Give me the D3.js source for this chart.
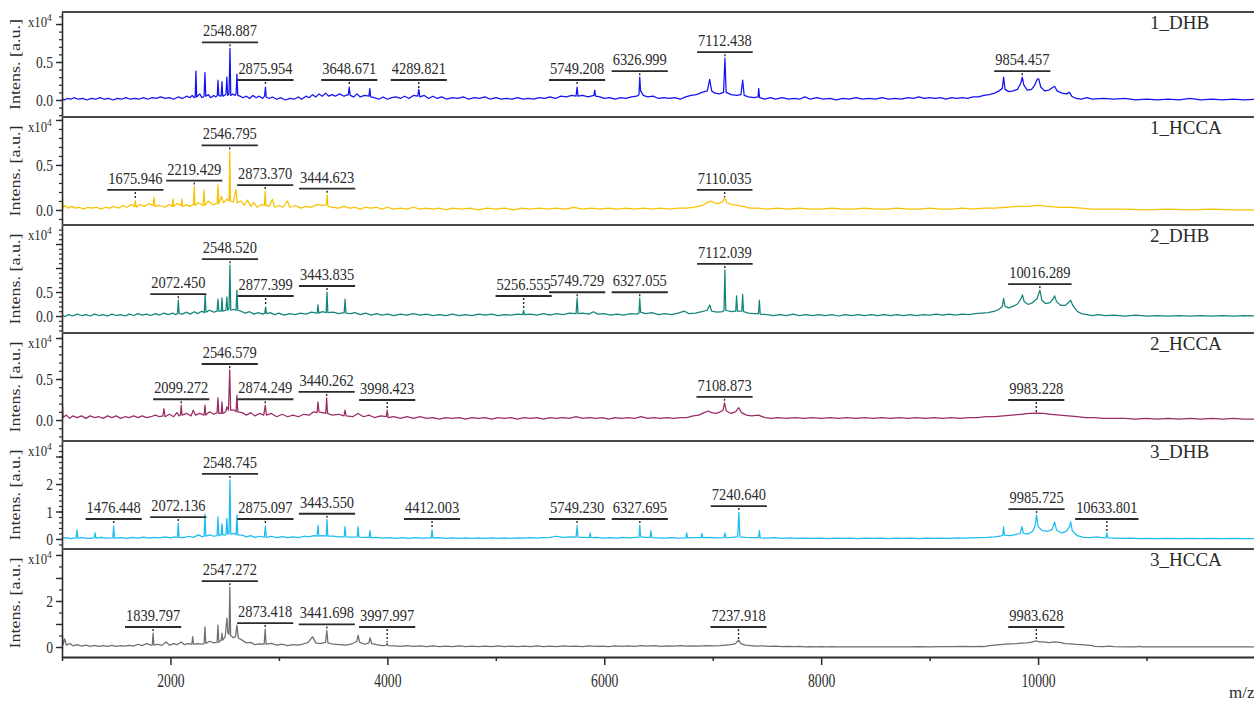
<!DOCTYPE html>
<html>
<head>
<meta charset="utf-8">
<script src="https://cdn.jsdelivr.net/npm/d3@7"></script>
<style>
  body { margin: 0; background: #fff; }
  svg { display: block; }
  text { font-family: "Liberation Serif", "Times New Roman", serif; }
</style>
</head>
<body>
<svg id="chart" width="1254" height="701"></svg>
<script>
// ---- m/z axis ----
const massRange = [1000, 12000];
const massMajorTicks = [2000, 4000, 6000, 8000, 10000, 12000];
const massTickLabels = [2000, 4000, 6000, 8000, 10000];
const massMinorTicks = [1000, 3000, 5000, 7000, 9000, 11000];

// ---- sample names and trace colours ----
const sampleNames = ["1_DHB", "1_HCCA", "2_DHB", "2_HCCA", "3_DHB", "3_HCCA"];
const traceColors = ["#1212f2", "#f7c200", "#14857a", "#9a2c66", "#1cbcef", "#6e6e6e"];

// ---- spectra: flat [m/z, intensity (x10^4 a.u.)] pairs ----
const spec1DHB = [
  1000,0.02, 1020,0.0, 1050,0.02, 1080,0.01, 1110,0.03, 1150,0.01, 1190,0.02, 1230,0.0, 1270,0.02, 1310,0.01,
  1350,0.03, 1390,0.01, 1430,0.02, 1470,0.0, 1510,0.02, 1550,0.01, 1590,0.03, 1630,0.01, 1670,0.02, 1710,0.01,
  1750,0.03, 1790,0.01, 1830,0.03, 1870,0.02, 1910,0.04, 1950,0.02, 1990,0.03, 2030,0.01, 2070,0.04, 2110,0.02,
  2150,0.05, 2180,0.03, 2200,0.06, 2220,0.03, 2228,0.04, 2235,0.38, 2242,0.04, 2270,0.08, 2290,0.03, 2310,0.05,
  2318,0.36, 2326,0.05, 2350,0.07, 2370,0.03, 2400,0.06, 2420,0.04, 2432,0.06, 2438,0.26, 2446,0.06, 2460,0.05,
  2468,0.06, 2475,0.24, 2482,0.05, 2500,0.06, 2512,0.08, 2520,0.30, 2528,0.06, 2540,0.08, 2548.887,0.68, 2556,0.06,
  2575,0.08, 2595,0.06, 2605,0.08, 2613,0.34, 2621,0.06, 2640,0.05, 2670,0.03, 2700,0.05, 2730,0.02, 2760,0.06,
  2790,0.03, 2820,0.05, 2850,0.02, 2868,0.05, 2875.954,0.17, 2883,0.04, 2910,0.02, 2940,0.04, 2980,0.01, 3020,0.03,
  3060,0.0, 3100,0.02, 3140,0.01, 3180,0.04, 3210,0.01, 3250,0.05, 3280,0.03, 3310,0.07, 3340,0.04, 3370,0.08,
  3400,0.05, 3430,0.09, 3460,0.05, 3490,0.07, 3520,0.05, 3560,0.08, 3600,0.05, 3640,0.07, 3648.671,0.17, 3657,0.06,
  3690,0.04, 3720,0.08, 3750,0.04, 3790,0.06, 3830,0.05, 3838,0.15, 3846,0.04, 3880,0.03, 3920,0.01, 3960,0.04,
  4000,0.01, 4040,0.03, 4080,0.04, 4120,0.02, 4160,0.05, 4200,0.02, 4240,0.06, 4280,0.05, 4289.821,0.14, 4300,0.04,
  4340,0.06, 4380,0.02, 4420,0.05, 4460,0.02, 4500,0.04, 4550,0.01, 4600,0.03, 4650,0.02, 4700,0.04, 4750,0.01,
  4800,0.03, 4850,0.02, 4900,0.04, 4950,0.01, 5000,0.03, 5050,0.01, 5100,0.02, 5150,0.01, 5200,0.03, 5250,0.01,
  5300,0.02, 5350,0.01, 5400,0.03, 5450,0.02, 5500,0.04, 5550,0.02, 5600,0.05, 5650,0.04, 5700,0.06, 5740,0.05,
  5749.208,0.17, 5758,0.05, 5800,0.06, 5850,0.04, 5905,0.06, 5912,0.13, 5920,0.05, 5960,0.04, 6000,0.02, 6050,0.03,
  6100,0.01, 6150,0.03, 6200,0.02, 6250,0.04, 6300,0.05, 6320,0.07, 6326.999,0.30, 6335,0.12, 6360,0.06, 6400,0.04,
  6450,0.05, 6500,0.02, 6550,0.03, 6600,0.02, 6650,0.03, 6700,0.01, 6750,0.04, 6800,0.06, 6850,0.07, 6900,0.10,
  6950,0.12, 6972,0.27, 6990,0.12, 7020,0.09, 7060,0.08, 7100,0.10, 7112.438,0.55, 7124,0.10, 7170,0.07, 7220,0.06,
  7260,0.07, 7276,0.26, 7290,0.06, 7330,0.04, 7380,0.03, 7418,0.04, 7424,0.15, 7432,0.03, 7480,0.01, 7530,0.03,
  7580,0.01, 7640,0.03, 7700,0.01, 7750,0.02, 7800,0.01, 7850,0.04, 7900,0.01, 7960,0.03, 8020,0.01, 8080,0.02,
  8140,0.0, 8200,0.02, 8260,0.01, 8320,0.03, 8380,0.01, 8440,0.02, 8500,0.01, 8560,0.03, 8620,0.01, 8680,0.02,
  8740,0.01, 8800,0.03, 8850,0.02, 8900,0.04, 8950,0.02, 9000,0.03, 9050,0.02, 9100,0.03, 9150,0.01, 9200,0.03,
  9250,0.02, 9300,0.03, 9350,0.02, 9400,0.04, 9450,0.04, 9500,0.06, 9550,0.07, 9600,0.09, 9640,0.12, 9670,0.15,
  9682,0.30, 9695,0.14, 9730,0.11, 9770,0.12, 9810,0.14, 9840,0.22, 9854.457,0.30, 9868,0.20, 9900,0.13, 9940,0.14,
  9970,0.20, 9990,0.27, 10005,0.28, 10025,0.17, 10060,0.12, 10100,0.13, 10130,0.16, 10152,0.18, 10175,0.12, 10220,0.09,
  10260,0.08, 10290,0.10, 10310,0.05, 10350,0.02, 10400,0.01, 10450,0.03, 10500,0.01, 10600,0.02, 10700,0.01, 10800,0.02,
  10900,0.0, 11000,0.01, 11100,0.0, 11200,0.01, 11300,0.0, 11400,0.02, 11500,0.0, 11600,0.01, 11700,0.0, 11800,0.01,
  11900,0.0, 12000,0.01
];

const spec1HCCA = [
  1000,0.0, 1004,0.16, 1010,0.02, 1030,0.05, 1060,0.02, 1090,0.04, 1120,0.02, 1160,0.03, 1200,0.01, 1240,0.03,
  1280,0.02, 1320,0.03, 1360,0.01, 1400,0.03, 1440,0.02, 1480,0.04, 1520,0.02, 1560,0.05, 1600,0.03, 1640,0.06,
  1668,0.04, 1675.946,0.10, 1684,0.03, 1720,0.06, 1760,0.04, 1800,0.07, 1840,0.05, 1848,0.14, 1856,0.04, 1900,0.05,
  1950,0.03, 1990,0.06, 2016,0.04, 2023,0.12, 2030,0.04, 2060,0.07, 2098,0.05, 2105,0.12, 2112,0.04, 2150,0.06,
  2180,0.04, 2212,0.06, 2219.429,0.26, 2226,0.05, 2260,0.08, 2300,0.05, 2309,0.22, 2317,0.05, 2350,0.10, 2390,0.06,
  2430,0.07, 2438,0.28, 2446,0.07, 2470,0.15, 2490,0.08, 2520,0.12, 2540,0.10, 2546.795,0.65, 2553,0.10, 2580,0.09,
  2604,0.23, 2615,0.08, 2650,0.10, 2680,0.05, 2710,0.11, 2740,0.04, 2770,0.08, 2800,0.03, 2840,0.06, 2866,0.05,
  2873.370,0.21, 2880,0.05, 2910,0.04, 2940,0.12, 2960,0.03, 3000,0.05, 3040,0.03, 3080,0.10, 3100,0.03, 3150,0.05,
  3200,0.02, 3250,0.04, 3300,0.03, 3350,0.06, 3400,0.05, 3437,0.06, 3444.623,0.17, 3452,0.04, 3500,0.03, 3550,0.02,
  3600,0.04, 3650,0.02, 3700,0.03, 3750,0.01, 3800,0.03, 3850,0.02, 3900,0.03, 3950,0.01, 4000,0.03, 4060,0.01,
  4120,0.02, 4180,0.01, 4240,0.03, 4300,0.01, 4360,0.02, 4420,0.01, 4480,0.02, 4540,0.0, 4600,0.02, 4680,0.01,
  4760,0.02, 4840,0.0, 4920,0.02, 5000,0.01, 5080,0.02, 5160,0.0, 5240,0.02, 5320,0.01, 5400,0.02, 5480,0.01,
  5560,0.02, 5640,0.01, 5720,0.03, 5800,0.01, 5880,0.02, 5960,0.01, 6040,0.02, 6120,0.01, 6200,0.02, 6280,0.01,
  6360,0.02, 6440,0.01, 6520,0.02, 6600,0.01, 6680,0.02, 6760,0.02, 6820,0.03, 6870,0.04, 6920,0.06, 6960,0.09,
  6980,0.10, 7010,0.08, 7050,0.07, 7090,0.09, 7110.035,0.13, 7130,0.08, 7180,0.06, 7230,0.05, 7280,0.04, 7340,0.02,
  7420,0.02, 7500,0.01, 7600,0.02, 7700,0.01, 7800,0.02, 7900,0.01, 8000,0.01, 8100,0.02, 8200,0.01, 8300,0.01,
  8400,0.02, 8500,0.01, 8600,0.01, 8700,0.02, 8800,0.01, 8900,0.01, 9000,0.02, 9100,0.01, 9200,0.01, 9300,0.02,
  9400,0.01, 9500,0.02, 9600,0.02, 9700,0.03, 9800,0.04, 9900,0.04, 10000,0.05, 10100,0.04, 10200,0.03, 10300,0.03,
  10400,0.02, 10500,0.01, 10600,0.01, 10800,0.01, 11000,0.0, 11200,0.01, 11400,0.0, 11600,0.01, 11800,0.0, 12000,0.0
];

const spec2DHB = [
  1000,0.02, 1030,-0.01, 1060,0.03, 1100,0.0, 1140,0.04, 1180,0.01, 1220,0.03, 1260,0.0, 1300,0.04, 1340,0.01,
  1380,0.03, 1420,0.0, 1460,0.04, 1500,0.01, 1540,0.03, 1580,0.0, 1620,0.04, 1660,0.01, 1700,0.05, 1740,0.02,
  1780,0.04, 1820,0.01, 1860,0.05, 1900,0.02, 1940,0.06, 1980,0.03, 2020,0.06, 2050,0.03, 2065,0.05, 2072.450,0.33,
  2080,0.05, 2110,0.04, 2150,0.08, 2180,0.04, 2220,0.09, 2250,0.05, 2290,0.10, 2312,0.07, 2320,0.44, 2328,0.08,
  2360,0.12, 2400,0.08, 2430,0.10, 2438,0.35, 2446,0.10, 2468,0.10, 2475,0.38, 2482,0.10, 2512,0.12, 2520,0.40,
  2528,0.12, 2540,0.15, 2548.520,1.06, 2556,0.12, 2585,0.14, 2605,0.12, 2613,0.54, 2621,0.12, 2650,0.10, 2690,0.06,
  2730,0.09, 2770,0.04, 2810,0.07, 2850,0.04, 2870,0.06, 2877.399,0.19, 2885,0.05, 2920,0.07, 2960,0.03, 3000,0.06,
  3050,0.02, 3100,0.05, 3150,0.03, 3200,0.06, 3250,0.04, 3300,0.08, 3352,0.06, 3360,0.23, 3368,0.06, 3400,0.09,
  3436,0.07, 3443.835,0.50, 3451,0.07, 3500,0.08, 3550,0.05, 3602,0.07, 3610,0.35, 3618,0.06, 3660,0.05, 3700,0.07,
  3750,0.03, 3800,0.06, 3850,0.02, 3900,0.05, 3950,0.02, 4000,0.04, 4060,0.01, 4120,0.04, 4180,0.02, 4240,0.05,
  4300,0.02, 4360,0.04, 4420,0.01, 4480,0.03, 4540,0.01, 4600,0.04, 4660,0.01, 4720,0.03, 4780,0.01, 4840,0.04,
  4900,0.02, 4960,0.04, 5020,0.01, 5080,0.03, 5140,0.02, 5200,0.04, 5248,0.03, 5256.555,0.12, 5264,0.03, 5320,0.04,
  5380,0.02, 5440,0.05, 5500,0.02, 5560,0.05, 5620,0.03, 5680,0.06, 5740,0.05, 5749.729,0.37, 5758,0.05, 5800,0.06,
  5860,0.04, 5900,0.09, 5940,0.04, 6000,0.05, 6060,0.02, 6120,0.04, 6180,0.02, 6240,0.05, 6300,0.04, 6320,0.06,
  6327.055,0.37, 6335,0.08, 6380,0.05, 6440,0.07, 6500,0.03, 6560,0.05, 6620,0.03, 6680,0.06, 6740,0.10, 6780,0.05,
  6840,0.06, 6900,0.09, 6950,0.12, 6972,0.23, 6990,0.10, 7040,0.08, 7090,0.09, 7104,0.12, 7112.039,0.96, 7120,0.12,
  7170,0.09, 7212,0.10, 7220,0.42, 7228,0.10, 7268,0.10, 7276,0.45, 7284,0.09, 7330,0.06, 7380,0.05, 7422,0.05,
  7430,0.33, 7438,0.04, 7500,0.03, 7560,0.01, 7620,0.03, 7680,0.01, 7740,0.04, 7800,0.01, 7860,0.03, 7920,0.01,
  7980,0.03, 8040,0.01, 8100,0.03, 8160,0.0, 8220,0.03, 8280,0.01, 8340,0.03, 8400,0.01, 8460,0.03, 8520,0.01,
  8580,0.03, 8640,0.01, 8700,0.03, 8760,0.01, 8820,0.03, 8880,0.01, 8940,0.03, 9000,0.02, 9060,0.04, 9120,0.02,
  9180,0.04, 9240,0.02, 9300,0.04, 9360,0.03, 9420,0.05, 9480,0.06, 9540,0.07, 9600,0.10, 9640,0.14, 9670,0.20,
  9682,0.37, 9695,0.20, 9730,0.17, 9770,0.20, 9810,0.25, 9840,0.35, 9856,0.44, 9872,0.30, 9910,0.24, 9950,0.28,
  9990,0.36, 10016.289,0.54, 10035,0.33, 10070,0.26, 10110,0.28, 10140,0.36, 10152,0.42, 10170,0.30, 10210,0.22, 10250,0.22,
  10280,0.28, 10300,0.33, 10320,0.22, 10360,0.10, 10400,0.05, 10450,0.03, 10500,0.01, 10560,0.03, 10620,0.01, 10700,0.02,
  10800,0.0, 10900,0.02, 11000,0.0, 11100,0.01, 11200,0.0, 11300,0.01, 11400,0.0, 11500,0.01, 11600,0.0, 11700,0.01,
  11800,0.0, 11900,0.01, 12000,0.0
];

const spec2HCCA = [
  1000,0.0, 1004,0.20, 1010,0.03, 1040,0.06, 1070,0.02, 1100,0.05, 1140,0.03, 1180,0.05, 1220,0.02, 1260,0.05,
  1300,0.03, 1340,0.04, 1380,0.02, 1420,0.05, 1460,0.03, 1500,0.05, 1540,0.02, 1580,0.04, 1620,0.03, 1660,0.05,
  1700,0.03, 1740,0.05, 1780,0.03, 1820,0.04, 1860,0.06, 1900,0.04, 1930,0.05, 1940,0.14, 1950,0.04, 1990,0.07,
  2030,0.04, 2060,0.09, 2080,0.05, 2092,0.06, 2099.272,0.18, 2107,0.06, 2150,0.08, 2190,0.05, 2210,0.12, 2230,0.06,
  2270,0.08, 2310,0.06, 2318,0.18, 2326,0.06, 2360,0.10, 2400,0.07, 2430,0.09, 2438,0.27, 2446,0.08, 2468,0.08,
  2475,0.22, 2482,0.08, 2510,0.10, 2520,0.16, 2535,0.12, 2546.579,0.61, 2555,0.12, 2590,0.12, 2605,0.10, 2613,0.30,
  2621,0.10, 2660,0.09, 2700,0.06, 2740,0.09, 2780,0.05, 2820,0.08, 2860,0.06, 2874.249,0.18, 2885,0.06, 2930,0.08,
  2980,0.04, 3030,0.07, 3080,0.04, 3130,0.06, 3180,0.04, 3230,0.07, 3280,0.06, 3320,0.10, 3352,0.09, 3360,0.22,
  3370,0.10, 3400,0.09, 3432,0.08, 3440.262,0.27, 3448,0.08, 3490,0.06, 3550,0.07, 3600,0.05, 3610,0.12, 3620,0.05,
  3680,0.04, 3730,0.08, 3780,0.04, 3830,0.06, 3880,0.03, 3940,0.05, 3990,0.04, 3998.423,0.12, 4007,0.03, 4060,0.04,
  4120,0.02, 4180,0.04, 4240,0.02, 4300,0.04, 4360,0.02, 4420,0.03, 4480,0.01, 4540,0.03, 4600,0.02, 4660,0.03,
  4720,0.01, 4780,0.03, 4840,0.02, 4900,0.03, 4960,0.01, 5020,0.03, 5080,0.02, 5140,0.03, 5200,0.01, 5260,0.03,
  5320,0.02, 5380,0.03, 5440,0.01, 5500,0.03, 5560,0.02, 5620,0.03, 5680,0.02, 5740,0.04, 5800,0.02, 5860,0.03,
  5920,0.02, 5980,0.03, 6040,0.01, 6100,0.03, 6160,0.02, 6220,0.03, 6280,0.02, 6340,0.04, 6400,0.02, 6460,0.03,
  6520,0.02, 6580,0.03, 6640,0.02, 6700,0.03, 6760,0.03, 6820,0.05, 6870,0.06, 6920,0.09, 6960,0.11, 6990,0.09,
  7030,0.08, 7070,0.10, 7095,0.12, 7108.873,0.21, 7125,0.11, 7170,0.08, 7210,0.10, 7240,0.15, 7265,0.09, 7310,0.06,
  7360,0.05, 7420,0.06, 7480,0.03, 7540,0.02, 7600,0.03, 7680,0.02, 7760,0.03, 7840,0.02, 7920,0.03, 8000,0.02,
  8080,0.03, 8160,0.02, 8240,0.03, 8320,0.02, 8400,0.03, 8480,0.02, 8560,0.03, 8640,0.02, 8720,0.03, 8800,0.02,
  8880,0.03, 8960,0.02, 9040,0.03, 9120,0.02, 9200,0.03, 9280,0.02, 9360,0.03, 9440,0.03, 9520,0.04, 9600,0.04,
  9680,0.05, 9760,0.06, 9840,0.07, 9920,0.08, 9983.228,0.085, 10050,0.08, 10120,0.07, 10200,0.06, 10280,0.05, 10360,0.04,
  10440,0.03, 10520,0.03, 10600,0.02, 10700,0.02, 10800,0.02, 10900,0.01, 11000,0.02, 11100,0.01, 11200,0.02, 11300,0.01,
  11400,0.02, 11500,0.01, 11600,0.02, 11700,0.01, 11800,0.02, 11900,0.01, 12000,0.01
];

const spec3DHB = [
  1000,0.02, 1040,0.05, 1080,0.01, 1130,0.04, 1138,0.33, 1146,0.03, 1190,0.05, 1240,0.02, 1297,0.04, 1305,0.22,
  1313,0.03, 1360,0.06, 1410,0.03, 1468,0.04, 1476.448,0.47, 1484,0.03, 1540,0.05, 1600,0.02, 1650,0.06, 1700,0.03,
  1750,0.07, 1800,0.03, 1850,0.06, 1900,0.04, 1950,0.08, 2000,0.04, 2040,0.08, 2065,0.06, 2072.136,0.58, 2080,0.06,
  2120,0.05, 2170,0.10, 2210,0.06, 2260,0.15, 2290,0.08, 2310,0.10, 2318,0.90, 2326,0.10, 2360,0.15, 2400,0.10,
  2430,0.12, 2438,0.80, 2446,0.12, 2468,0.15, 2475,0.55, 2482,0.15, 2512,0.15, 2520,0.75, 2528,0.18, 2540,0.20,
  2548.745,2.15, 2556,0.18, 2590,0.20, 2605,0.15, 2613,0.87, 2621,0.15, 2660,0.14, 2700,0.08, 2740,0.12, 2780,0.06,
  2820,0.10, 2866,0.07, 2875.097,0.47, 2884,0.06, 2930,0.10, 2980,0.05, 3030,0.09, 3080,0.05, 3130,0.08, 3180,0.05,
  3230,0.10, 3280,0.08, 3320,0.12, 3352,0.10, 3360,0.50, 3368,0.10, 3400,0.12, 3436,0.10, 3443.550,0.70, 3451,0.10,
  3500,0.10, 3550,0.08, 3602,0.08, 3610,0.45, 3618,0.08, 3660,0.07, 3722,0.08, 3730,0.45, 3738,0.07, 3790,0.06,
  3832,0.06, 3840,0.30, 3848,0.05, 3900,0.06, 3960,0.03, 4020,0.05, 4080,0.02, 4140,0.05, 4200,0.02, 4260,0.05,
  4320,0.03, 4380,0.04, 4404,0.04, 4412.003,0.33, 4420,0.04, 4480,0.05, 4540,0.02, 4600,0.04, 4660,0.02, 4720,0.04,
  4780,0.02, 4840,0.04, 4900,0.02, 4960,0.04, 5020,0.02, 5080,0.04, 5140,0.02, 5200,0.04, 5260,0.03, 5320,0.05,
  5380,0.03, 5440,0.05, 5500,0.06, 5560,0.10, 5620,0.06, 5680,0.08, 5740,0.07, 5749.230,0.45, 5758,0.07, 5810,0.06,
  5862,0.05, 5870,0.22, 5878,0.05, 5930,0.06, 5990,0.03, 6050,0.05, 6110,0.03, 6170,0.06, 6230,0.04, 6290,0.06,
  6320,0.07, 6327.695,0.50, 6335,0.08, 6380,0.06, 6422,0.06, 6430,0.30, 6438,0.05, 6500,0.04, 6560,0.03, 6620,0.05,
  6680,0.03, 6752,0.04, 6760,0.22, 6768,0.04, 6830,0.05, 6892,0.05, 6900,0.20, 6908,0.05, 6970,0.06, 7030,0.04,
  7104,0.05, 7112,0.22, 7120,0.05, 7170,0.06, 7230,0.08, 7240.640,0.98, 7250,0.08, 7300,0.06, 7360,0.05, 7422,0.05,
  7430,0.30, 7438,0.04, 7500,0.03, 7570,0.05, 7640,0.02, 7710,0.04, 7780,0.02, 7850,0.03, 7920,0.02, 7990,0.03,
  8060,0.01, 8130,0.03, 8200,0.02, 8270,0.03, 8340,0.01, 8410,0.03, 8480,0.02, 8550,0.03, 8620,0.01, 8690,0.03,
  8760,0.02, 8830,0.03, 8900,0.01, 8970,0.03, 9040,0.02, 9110,0.03, 9180,0.02, 9250,0.04, 9320,0.03, 9390,0.04,
  9460,0.05, 9530,0.06, 9600,0.08, 9650,0.10, 9675,0.14, 9682,0.45, 9690,0.14, 9740,0.12, 9790,0.16, 9835,0.20,
  9850,0.45, 9865,0.20, 9910,0.18, 9950,0.28, 9970,0.45, 9985.725,0.87, 10000,0.45, 10040,0.30, 10090,0.28, 10130,0.35,
  10152,0.62, 10170,0.32, 10220,0.22, 10260,0.28, 10290,0.45, 10300,0.62, 10315,0.30, 10360,0.12, 10420,0.06, 10480,0.05,
  10540,0.08, 10600,0.04, 10626,0.05, 10633.801,0.22, 10642,0.04, 10700,0.03, 10780,0.02, 10860,0.03, 10940,0.01, 11020,0.02,
  11100,0.01, 11200,0.02, 11300,0.01, 11400,0.02, 11500,0.01, 11600,0.02, 11700,0.01, 11800,0.02, 11900,0.01, 12000,0.01
];

const spec3HCCA = [
  1000,0.0, 1004,0.55, 1010,0.10, 1025,0.35, 1040,0.08, 1070,0.15, 1100,0.05, 1140,0.10, 1180,0.04, 1220,0.08,
  1260,0.03, 1300,0.07, 1340,0.03, 1380,0.06, 1420,0.03, 1460,0.07, 1500,0.03, 1540,0.06, 1580,0.04, 1620,0.07,
  1660,0.04, 1700,0.12, 1740,0.06, 1780,0.15, 1820,0.08, 1832,0.09, 1839.797,0.60, 1847,0.08, 1880,0.12, 1920,0.07,
  1960,0.22, 1990,0.08, 2030,0.15, 2060,0.10, 2100,0.22, 2130,0.10, 2160,0.15, 2197,0.12, 2205,0.45, 2213,0.12,
  2250,0.15, 2290,0.12, 2310,0.15, 2318,0.87, 2326,0.15, 2360,0.25, 2400,0.18, 2430,0.20, 2438,0.95, 2446,0.20,
  2468,0.30, 2475,0.60, 2482,0.30, 2505,0.45, 2520,1.25, 2530,0.60, 2540,0.55, 2547.272,2.60, 2555,0.50, 2580,0.40,
  2600,0.45, 2613,0.95, 2625,0.40, 2660,0.30, 2700,0.18, 2740,0.20, 2780,0.10, 2820,0.14, 2864,0.12, 2873.418,0.78,
  2882,0.12, 2930,0.16, 2980,0.08, 3030,0.12, 3080,0.06, 3130,0.10, 3180,0.08, 3230,0.14, 3270,0.20, 3310,0.45,
  3340,0.18, 3380,0.15, 3430,0.20, 3441.698,0.72, 3452,0.18, 3500,0.12, 3560,0.10, 3620,0.08, 3680,0.15, 3720,0.25,
  3730,0.52, 3745,0.20, 3790,0.12, 3830,0.18, 3840,0.40, 3855,0.15, 3900,0.10, 3950,0.06, 3990,0.07, 3997.997,0.17,
  4006,0.06, 4060,0.05, 4120,0.03, 4180,0.06, 4240,0.03, 4300,0.05, 4360,0.02, 4420,0.05, 4480,0.02, 4540,0.04,
  4600,0.02, 4660,0.05, 4720,0.02, 4780,0.04, 4840,0.02, 4900,0.04, 4960,0.02, 5020,0.05, 5080,0.02, 5140,0.04,
  5200,0.02, 5260,0.04, 5320,0.02, 5380,0.05, 5440,0.02, 5500,0.04, 5560,0.02, 5620,0.05, 5680,0.03, 5740,0.04,
  5800,0.02, 5860,0.05, 5920,0.03, 5980,0.04, 6040,0.02, 6100,0.05, 6160,0.03, 6220,0.05, 6280,0.03, 6340,0.06,
  6400,0.04, 6460,0.06, 6520,0.03, 6580,0.05, 6640,0.04, 6700,0.06, 6760,0.04, 6820,0.05, 6880,0.04, 6940,0.06,
  7000,0.05, 7060,0.06, 7120,0.08, 7170,0.10, 7210,0.15, 7237.918,0.30, 7260,0.15, 7300,0.08, 7350,0.06, 7400,0.04,
  7460,0.05, 7520,0.03, 7580,0.04, 7640,0.02, 7700,0.03, 7760,0.02, 7800,0.03, 7850,0.01, 7900,0.02, 7950,0.01,
  8000,0.02, 8050,0.01, 8100,0.02, 8150,0.01, 8200,0.01, 8300,0.01, 8400,0.01, 8500,0.01, 8600,0.01, 8700,0.01,
  8800,0.01, 8900,0.02, 9000,0.01, 9100,0.02, 9200,0.02, 9300,0.03, 9400,0.02, 9480,0.03, 9500,0.02, 9550,0.06,
  9600,0.08, 9650,0.10, 9700,0.12, 9750,0.14, 9800,0.15, 9850,0.17, 9900,0.18, 9950,0.22, 9983.628,0.27, 10010,0.22,
  10050,0.22, 10100,0.19, 10150,0.22, 10200,0.20, 10250,0.15, 10300,0.14, 10350,0.11, 10400,0.10, 10450,0.08, 10500,0.06,
  10520,0.03, 10600,0.02, 10660,0.04, 10700,0.02, 10800,0.01, 10900,0.01, 10940,0.03, 10960,0.01, 11000,0.0, 11200,0.0,
  11400,0.0, 11600,0.0, 11800,0.0, 12000,0.0
];

// ---- annotated peaks (m/z) ----
const peaks1DHB  = [2548.887, 2875.954, 3648.671, 4289.821, 5749.208, 6326.999, 7112.438, 9854.457];
const peaks1HCCA = [1675.946, 2219.429, 2546.795, 2873.370, 3444.623, 7110.035];
const peaks2DHB  = [2072.450, 2548.520, 2877.399, 3443.835, 5256.555, 5749.729, 6327.055, 7112.039, 10016.289];
const peaks2HCCA = [2099.272, 2546.579, 2874.249, 3440.262, 3998.423, 7108.873, 9983.228];
const peaks3DHB  = [1476.448, 2072.136, 2548.745, 2875.097, 3443.550, 4412.003, 5749.230, 6327.695, 7240.640, 9985.725, 10633.801];
const peaks3HCCA = [1839.797, 2547.272, 2873.418, 3441.698, 3997.997, 7237.918, 9983.628];

// ---- intensity axes (x10^4) ----
const intensityDomains = [[-0.224, 1.158], [-0.167, 1.033], [-0.354, 1.896], [-0.256, 1.061], [-0.364, 3.564], [-0.435, 4.26]];
const intensityLabelTicks = [[0, 0.5], [0, 0.5], [0, 0.5], [0, 0.5], [0, 1, 2], [0, 2]];
const intensityMajorStep = [0.5, 0.5, 0.5, 0.5, 1, 1];
const intensityMinorStep = [0.1, 0.1, 0.1, 0.1, 0.2, 0.5];
const intensityFormats = [".1f", ".1f", ".1f", ".1f", "d", "d"];

const spectra = [spec1DHB, spec1HCCA, spec2DHB, spec2HCCA, spec3DHB, spec3HCCA];
const annotated = [peaks1DHB, peaks1HCCA, peaks2DHB, peaks2HCCA, peaks3DHB, peaks3HCCA];

// ---- layout ----
const plotLeft = 62, plotRight = 1254;
const panelEdges = [12, 117, 225, 333, 441, 549, 657];
const ink = "#2b2b2b";

const svg = d3.select("#chart");
const x = d3.scaleLinear().domain(massRange).range([plotLeft, 1255]);

const toPairs = arr => d3.range(0, arr.length, 2).map(i => [arr[i], arr[i + 1]]);
const stepTicks = (dom, step) => d3.range(Math.ceil(dom[0] / step - 1e-9), Math.floor(dom[1] / step + 1e-9) + 1)
  .map(k => +(k * step).toFixed(4));

const defs = svg.append("defs");

sampleNames.forEach((name, i) => {
  const top = panelEdges[i], bottom = panelEdges[i + 1];
  const y = d3.scaleLinear().domain(intensityDomains[i]).range([bottom, top]);
  const g = svg.append("g").attr("class", "panel");

  defs.append("clipPath").attr("id", "clip" + i)
    .append("rect").attr("x", plotLeft).attr("y", top).attr("width", plotRight - plotLeft).attr("height", bottom - top);

  // spectrum trace
  const pts = toPairs(spectra[i]);
  g.append("path")
    .datum(pts)
    .attr("clip-path", `url(#clip${i})`)
    .attr("fill", "none")
    .attr("stroke", traceColors[i])
    .attr("stroke-width", 1.25)
    .attr("stroke-linejoin", "round")
    .attr("d", d3.line().x(d => x(d[0])).y(d => y(d[1])));

  // minor and major intensity ticks
  const minorAxis = d3.axisLeft(y).tickValues(stepTicks(intensityDomains[i], intensityMinorStep[i]))
    .tickSize(3).tickSizeOuter(0).tickFormat("");
  g.append("g").attr("transform", `translate(${plotLeft},0)`).call(minorAxis)
    .call(a => a.select(".domain").remove())
    .call(a => a.selectAll("line").attr("stroke", ink).attr("stroke-width", 1.2));

  const fmt = d3.format(intensityFormats[i]);
  const majorAxis = d3.axisLeft(y).tickValues(stepTicks(intensityDomains[i], intensityMajorStep[i]))
    .tickSize(6).tickSizeOuter(0)
    .tickFormat(v => intensityLabelTicks[i].includes(v) ? fmt(v) : "");
  g.append("g").attr("transform", `translate(${plotLeft},0)`).call(majorAxis)
    .call(a => a.select(".domain").attr("stroke", ink).attr("stroke-width", 1.6))
    .call(a => a.selectAll("line").attr("stroke", ink).attr("stroke-width", 1.4))
    .call(a => a.selectAll("text")
      .attr("x", 0).attr("dy", "0.35em")
      .attr("transform", "translate(-9,0) scale(0.85,1)")
      .attr("font-size", 16).attr("fill", ink)
      .attr("font-family", "Liberation Serif, serif"));

  // exponent marker
  const ex = g.append("text").attr("transform", `translate(28,${top + 15}) scale(0.85,1)`)
    .attr("font-size", 15).attr("fill", ink);
  ex.append("tspan").text("x10");
  ex.append("tspan").attr("font-size", 11).attr("dy", -6).text("4");

  // axis title
  g.append("text")
    .attr("transform", `translate(20,${(top + bottom) / 2}) rotate(-90) scale(1,0.78)`)
    .attr("text-anchor", "middle").attr("font-size", 18).attr("fill", ink)
    .text("Intens. [a.u.]");

  // sample name
  g.append("text").attr("x", 1150).attr("y", top + 17)
    .attr("font-size", 19).attr("fill", ink).text(name);

  // peak annotations
  annotated[i].forEach(mz => {
    const pk = pts.find(p => Math.abs(p[0] - mz) < 1e-6);
    const px = x(pk[0]), py = y(pk[1]);
    const uy = Math.min(py - 6, y(0) - 20);
    const lg = g.append("g").attr("transform", `translate(${px},${uy})`);
    const t = lg.append("text")
      .attr("transform", "translate(0,-6) scale(0.85,1)")
      .attr("text-anchor", "middle").attr("font-size", 17).attr("fill", ink)
      .text(d3.format(".3f")(mz));
    const half = t.node().getComputedTextLength() * 0.85 / 2 + 1;
    lg.append("line").attr("x1", -half).attr("x2", half).attr("y1", 0).attr("y2", 0)
      .attr("stroke", ink).attr("stroke-width", 1.8);
    lg.append("line").attr("x1", 0).attr("x2", 0).attr("y1", 2).attr("y2", Math.max(2, py - uy - 1))
      .attr("stroke", ink).attr("stroke-width", 1.4).attr("stroke-dasharray", "2,2");
  });
});

// panel separators
svg.append("g").selectAll("line").data(panelEdges.slice(0, -1)).join("line")
  .attr("x1", plotLeft).attr("x2", plotRight).attr("y1", d => d).attr("y2", d => d)
  .attr("stroke", "#4a4a4a").attr("stroke-width", 2);

// m/z axis
const xAxisY = panelEdges[panelEdges.length - 1];
svg.append("g").attr("transform", `translate(0,${xAxisY})`)
  .call(d3.axisBottom(x).tickValues(massMinorTicks).tickSize(4).tickSizeOuter(0).tickFormat(""))
  .call(a => a.select(".domain").remove())
  .call(a => a.selectAll("line").attr("stroke", ink).attr("stroke-width", 1.5));
svg.append("g").attr("transform", `translate(0,${xAxisY})`)
  .call(d3.axisBottom(x).tickValues(massMajorTicks).tickSize(8).tickSizeOuter(0)
    .tickFormat(v => massTickLabels.includes(v) ? d3.format("d")(v) : ""))
  .call(a => a.select(".domain").attr("stroke", ink).attr("stroke-width", 2))
  .call(a => a.selectAll("line").attr("stroke", ink).attr("stroke-width", 1.5))
  .call(a => a.selectAll("text")
    .attr("y", 0).attr("dy", 0)
    .attr("transform", "translate(0,30) scale(0.76,1)")
    .attr("font-size", 18).attr("fill", ink)
    .attr("font-family", "Liberation Serif, serif"));

svg.append("text").attr("x", 1229).attr("y", 698)
  .attr("font-size", 17).attr("fill", ink).text("m/z");
</script>
</body>
</html>
